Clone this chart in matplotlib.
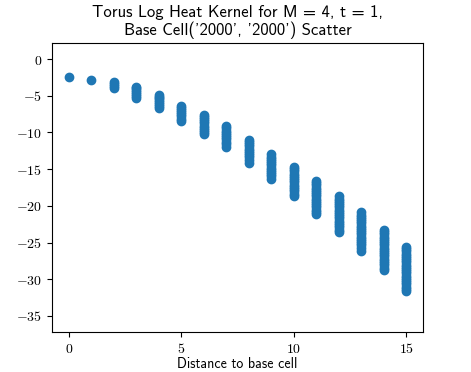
import os
import matplotlib
matplotlib.use("Agg")
import matplotlib.pyplot as plt
from matplotlib.font_manager import FontProperties
from matplotlib.ticker import FuncFormatter, MultipleLocator

plt.rcParams['mathtext.fontset'] = 'cm'

# log heat kernel values, grouped by distance to base cell
d00 = [-2.37]
d01 = [-2.83]
d02 = [-3.14, -3.4, -3.65, -3.87]
d03 = [-3.74, -4.0, -4.25, -4.5, -4.75, -5.0, -5.24]
d04 = [-4.83, -5.1, -5.35, -5.6, -5.9, -6.15, -6.4, -6.69]
d05 = [-6.33, -6.6, -6.9, -7.2, -7.5, -7.8, -8.1, -8.42]
d06 = [-7.56, -7.85, -8.15, -8.45, -8.75, -9.05, -9.35, -9.65, -9.95, -10.23]
d07 = [-9.14, -9.45, -9.75, -10.05, -10.35, -10.65, -10.95, -11.3, -11.6, -11.96]
d08 = [-11.0, -11.3, -11.6, -11.9, -12.2, -12.5, -12.8, -13.1, -13.4, -13.75, -14.1]
d09 = [-13.0, -13.3, -13.6, -13.9, -14.2, -14.5, -14.8, -15.1, -15.4, -15.7, -16.0, -16.3]
d10 = [-14.7, -15.0, -15.3, -15.6, -15.9, -16.2, -16.5, -16.8, -17.1, -17.4, -17.7,
       -18.0, -18.35, -18.7]
d11 = [-16.6, -16.9, -17.2, -17.5, -17.8, -18.1, -18.4, -18.7, -19.0, -19.3, -19.6,
       -19.9, -20.2, -20.5, -20.8, -21.1]
d12 = [-18.7, -19.0, -19.3, -19.6, -19.9, -20.2, -20.5, -20.8, -21.1, -21.4, -21.7,
       -22.0, -22.3, -22.6, -22.9, -23.25, -23.6]
d13 = [-20.9, -21.2, -21.5, -21.8, -22.1, -22.4, -22.7, -23.0, -23.3, -23.6, -23.9,
       -24.2, -24.5, -24.8, -25.1, -25.4, -25.75, -26.1]
d14 = [-23.3, -23.6, -23.9, -24.2, -24.5, -24.8, -25.1, -25.4, -25.7, -26.0, -26.3,
       -26.6, -26.9, -27.2, -27.5, -27.8, -28.1, -28.45, -28.8]
d15 = [-25.6, -25.9, -26.2, -26.5, -26.8, -27.1, -27.4, -27.7, -28.0, -28.3, -28.6,
       -28.9, -29.2, -29.5, -29.8, -30.1, -30.4, -30.7, -31.0, -31.3, -31.6]

distances = list(range(16))
groups = [d00, d01, d02, d03, d04, d05, d06, d07, d08, d09, d10, d11, d12, d13, d14, d15]

xs, ys = [], []
for d, vals in zip(distances, groups):
    xs.extend([d] * len(vals))
    ys.extend(vals)

ttf_dir = os.path.join(matplotlib.get_data_path(), 'fonts', 'ttf')
sans = FontProperties(fname=os.path.join(ttf_dir, 'cmss10.ttf'), size=12)
sans_lbl = FontProperties(fname=os.path.join(ttf_dir, 'cmss10.ttf'), size=10)

fig = plt.figure(figsize=(4.71, 3.72), dpi=100)
ax = fig.add_axes([52 / 471, 1 - 332 / 372, (423 - 52) / 471, (332 - 43) / 372])
ax.scatter(xs, ys, s=36, color='#1f77b4')

ax.set_ylim(-37.2, 2.2)
ax.xaxis.set_major_locator(MultipleLocator(5))
ax.yaxis.set_major_locator(MultipleLocator(5))
fmt = FuncFormatter(lambda v, p: r'$%d$' % int(round(v)))
ax.xaxis.set_major_formatter(fmt)
ax.yaxis.set_major_formatter(fmt)
ax.tick_params(labelsize=10)

ax.set_title("Torus Log Heat Kernel for M = 4, t = 1,\nBase Cell('2000', '2000') Scatter",
             fontproperties=sans, linespacing=1.1)
ax.set_xlabel("Distance to base cell", fontproperties=sans_lbl, labelpad=1)

fig.savefig("out.png", dpi=100)
